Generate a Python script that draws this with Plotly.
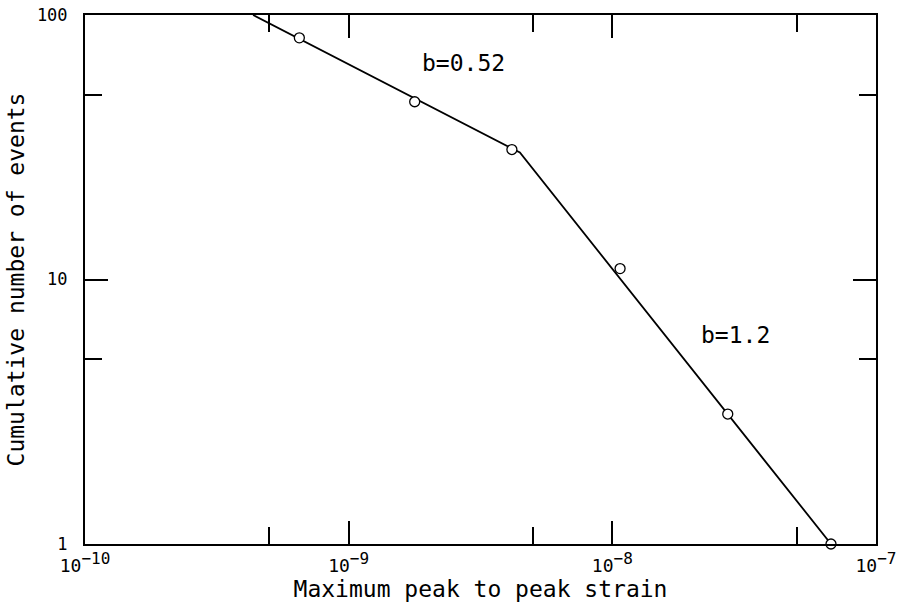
import plotly.graph_objects as go

# Observed data points (maximum peak-to-peak strain, cumulative number of events)
strain = [6.5e-10, 1.78e-9, 4.16e-9, 1.07e-8, 2.74e-8, 6.75e-8]
events = [82, 47, 31, 11, 3.1, 1]

# Fitted two-segment power law (b = 0.52, then b = 1.2)
fit_strain = [4.34e-10, 4.46e-9, 6.75e-8]
fit_events = [100, 30.2, 1]

x_major = [1e-10, 1e-9, 1e-8, 1e-7]
x_exponents = ["−10", "−9", "−8", "−7"]
x_minor = [5e-10, 5e-9, 5e-8]
y_major = [1, 10, 100]
y_major_text = ["1", "10", "100"]
y_minor = [5, 50]

FONT = "DejaVu Sans Mono"
x_major_text = ["10<sup><span style='font-size:16px'>%s</span></sup>" % e for e in x_exponents]

fig = go.Figure()
fig.add_trace(go.Scatter(x=fit_strain, y=fit_events, mode="lines",
                         line=dict(color="black", width=1.8),
                         showlegend=False, hoverinfo="skip"))
fig.add_trace(go.Scatter(x=strain, y=events, mode="markers",
                         marker=dict(symbol="circle", size=10, color="white",
                                     line=dict(color="black", width=1.3)),
                         cliponaxis=False, showlegend=False))

axis_common = dict(
    showline=True, linecolor="black", linewidth=2, mirror="allticks",
    ticks="inside", ticklen=23, tickwidth=1.5, tickcolor="black",
    showgrid=False, zeroline=False, automargin=False,
    ticklabeloverflow="allow",
)

fig.update_xaxes(type="log", range=[-10, -7], tickmode="array",
                 tickvals=x_major, ticktext=x_major_text,
                 tickfont=dict(family=FONT, size=18, color="black"),
                 minor=dict(tickmode="array", tickvals=x_minor, ticks="inside",
                            ticklen=17, tickwidth=1.5, tickcolor="black", showgrid=False),
                 title=dict(text="Maximum peak to peak strain",
                            font=dict(family=FONT, size=23, color="black"), standoff=2),
                 ticklabelstandoff=4,
                 **axis_common)
fig.update_yaxes(type="log", range=[0, 2], tickmode="array",
                 tickvals=y_major, ticktext=y_major_text,
                 tickfont=dict(family=FONT, size=17, color="black"),
                 minor=dict(tickmode="array", tickvals=y_minor, ticks="inside",
                            ticklen=17, tickwidth=1.5, tickcolor="black", showgrid=False),
                 title=dict(text="Cumulative number of events",
                            font=dict(family=FONT, size=23, color="black"), standoff=6),
                 ticklabelstandoff=12,
                 **axis_common)

fig.add_annotation(text="b=0.52", x=0.479, y=0.909, xref="paper", yref="paper",
                   xanchor="center", yanchor="middle",
                   showarrow=False, font=dict(family=FONT, size=23, color="black"))
fig.add_annotation(text="b=1.2", x=0.822, y=0.395, xref="paper", yref="paper",
                   xanchor="center", yanchor="middle",
                   showarrow=False, font=dict(family=FONT, size=23, color="black"))

fig.update_layout(width=907, height=609,
                  margin=dict(l=85, r=31, t=15, b=65, autoexpand=False),
                  paper_bgcolor="white", plot_bgcolor="white")

# Remove the browser's default 8px body margin so the figure fills the window.
fig.write_html("out.html", config={"displayModeBar": False},
               post_script="document.body.style.margin='0';")
